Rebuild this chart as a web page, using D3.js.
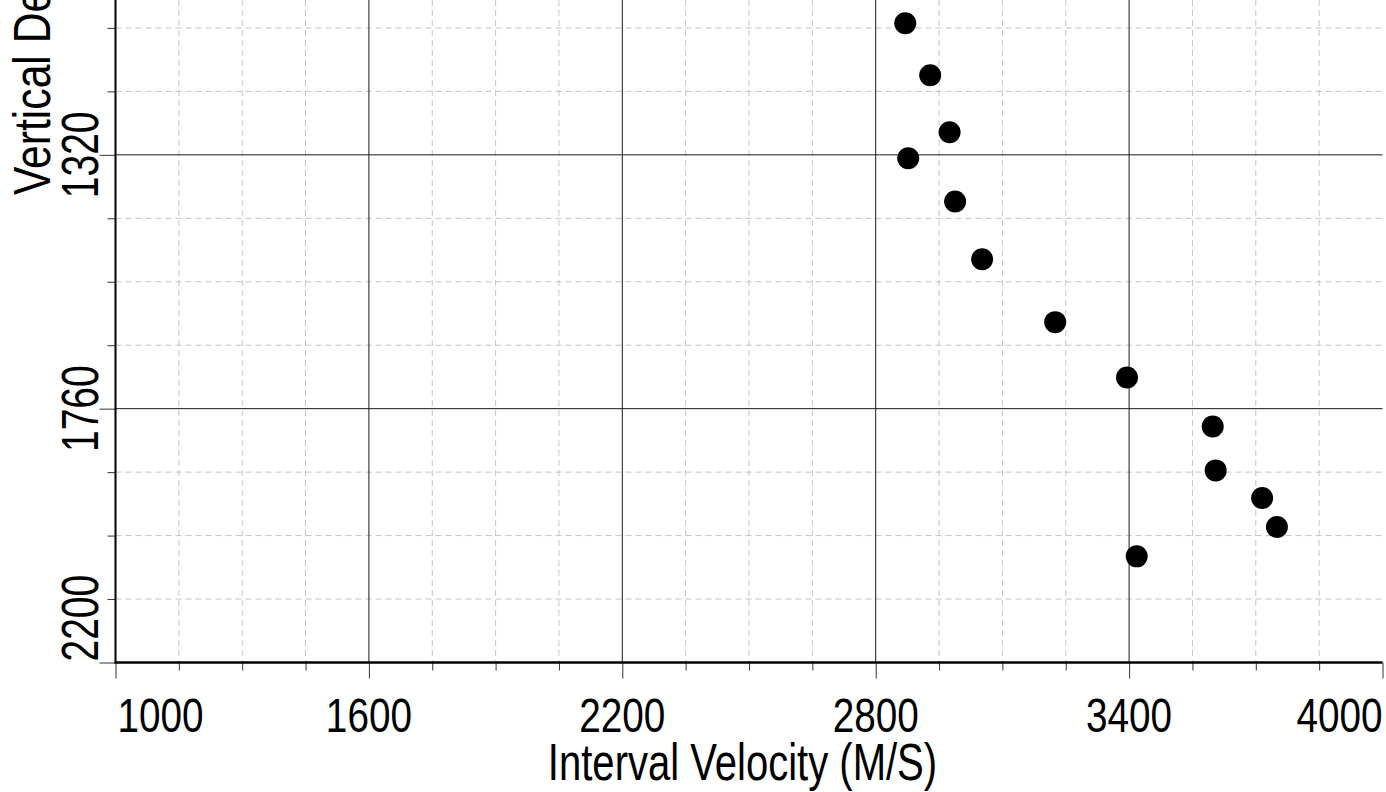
<!DOCTYPE html>
<html>
<head>
<meta charset="utf-8">
<script src="https://cdn.jsdelivr.net/npm/d3@7"></script>
<style>
  html, body { margin: 0; padding: 0; background: #fff; overflow: hidden; }
  svg { display: block; }
  text { font-family: "Liberation Sans", Arial, sans-serif; fill: #000; }
</style>
</head>
<body>
<svg id="chart" width="1386" height="792"></svg>
<script>
// ---- data ----
const velocity = [2870, 2929, 2975, 2877, 2988, 3052, 3225, 3395, 3598, 3605, 3715, 3750, 3418];
const depth    = [1092, 1182, 1281, 1326, 1401, 1501, 1610, 1706, 1791, 1867, 1915, 1965, 2016];
const xMajorTicks = [1000, 1600, 2200, 2800, 3400, 4000];
const xMinorTicks = d3.range(1150, 4000, 150).filter(v => (v - 1000) % 600 !== 0);
const yMajorTicks = [880, 1320, 1760, 2200];
const yMinorTicks = d3.range(990, 2200, 110).filter(v => (v - 880) % 440 !== 0);
const xTitle = "Interval Velocity (M/S)";
const yTitle = "Vertical Depth (M)";

// ---- scales ----
const svg = d3.select("#chart");
const x = d3.scaleLinear().domain([1000, 4000]).range([115.5, 1382.5]);
const y = d3.scaleLinear().domain([880, 2200]).range([-99, 662.5]);
const x0 = x.range()[0], x1 = x.range()[1];
const y0 = y(2200);

// ---- grid ----
const grid = svg.append("g");
grid.selectAll(".vminor").data(xMinorTicks).join("line")
  .attr("x1", d => x(d)).attr("x2", d => x(d)).attr("y1", 0).attr("y2", y0)
  .attr("stroke", "#c4c4c4").attr("stroke-width", 1).attr("stroke-dasharray", "6,4");
grid.selectAll(".hminor").data(yMinorTicks).join("line")
  .attr("x1", x0).attr("x2", x1).attr("y1", d => y(d)).attr("y2", d => y(d))
  .attr("stroke", "#c4c4c4").attr("stroke-width", 1).attr("stroke-dasharray", "6,4");
grid.selectAll(".vmajor").data(xMajorTicks.slice(1, -1)).join("line")
  .attr("x1", d => x(d)).attr("x2", d => x(d)).attr("y1", 0).attr("y2", y0)
  .attr("stroke", "#1a1a1a").attr("stroke-width", 1);
grid.selectAll(".hmajor").data(yMajorTicks.slice(0, -1)).join("line")
  .attr("x1", x0).attr("x2", x1).attr("y1", d => y(d)).attr("y2", d => y(d))
  .attr("stroke", "#1a1a1a").attr("stroke-width", 1);

// ---- axes via d3 ----
const xAxisMinor = d3.axisBottom(x).tickValues(xMinorTicks).tickSize(8).tickFormat("");
const xAxisMajor = d3.axisBottom(x).tickValues(xMajorTicks).tickSize(16).tickFormat("");
const yAxisMinor = d3.axisLeft(y).tickValues(yMinorTicks).tickSize(8).tickFormat("");
const yAxisMajor = d3.axisLeft(y).tickValues(yMajorTicks).tickSize(16).tickFormat("");

function styleAxis(g) {
  g.select(".domain").remove();
  g.selectAll(".tick line").attr("stroke", "#333").attr("stroke-width", 1);
}
svg.append("g").attr("transform", `translate(0,${y0})`).call(xAxisMinor).call(styleAxis);
svg.append("g").attr("transform", `translate(0,${y0})`).call(xAxisMajor).call(styleAxis);
svg.append("g").attr("transform", `translate(${x0},0)`).call(yAxisMinor).call(styleAxis);
svg.append("g").attr("transform", `translate(${x0},0)`).call(yAxisMajor).call(styleAxis);

// axis lines
svg.append("line").attr("x1", x0).attr("x2", x0).attr("y1", 0).attr("y2", y0 + 1)
  .attr("stroke", "#000").attr("stroke-width", 2);
svg.append("line").attr("x1", x0 - 1).attr("x2", x1).attr("y1", y0).attr("y2", y0)
  .attr("stroke", "#000").attr("stroke-width", 2.6);

// ---- tick labels ----
const xLab = svg.append("g");
xMajorTicks.forEach((v, i) => {
  const anchor = i === 0 ? "start" : (i === xMajorTicks.length - 1 ? "end" : "middle");
  const dx = i === 0 ? 2 : 0;
  xLab.append("text")
    .attr("transform", `translate(${x(v) + dx},732) scale(0.79,1)`)
    .attr("text-anchor", anchor)
    .style("font-size", "49px")
    .text(v);
});
const yLab = svg.append("g");
yMajorTicks.forEach((v, i) => {
  const last = i === yMajorTicks.length - 1;
  yLab.append("text")
    .attr("transform", `translate(98,${last ? y(v) - 1 : y(v)}) rotate(-90) scale(0.75,1)`)
    .attr("text-anchor", last ? "start" : "middle")
    .style("font-size", "52px")
    .text(v);
});

// ---- titles ----
svg.append("text")
  .attr("transform", `translate(${(547 + 938) / 2},780) scale(0.77,1)`)
  .attr("text-anchor", "middle")
  .style("font-size", "52px")
  .text(xTitle);
svg.append("text")
  .attr("transform", `translate(50,195) rotate(-90) scale(0.82,1)`)
  .attr("text-anchor", "start")
  .style("font-size", "52px")
  .text(yTitle);

// ---- points ----
const pts = velocity.map((v, i) => ({ v, d: depth[i] }));
svg.append("g").selectAll("circle").data(pts).join("circle")
  .attr("cx", p => x(p.v)).attr("cy", p => y(p.d)).attr("r", 11)
  .attr("fill", "#000");
</script>
</body>
</html>
